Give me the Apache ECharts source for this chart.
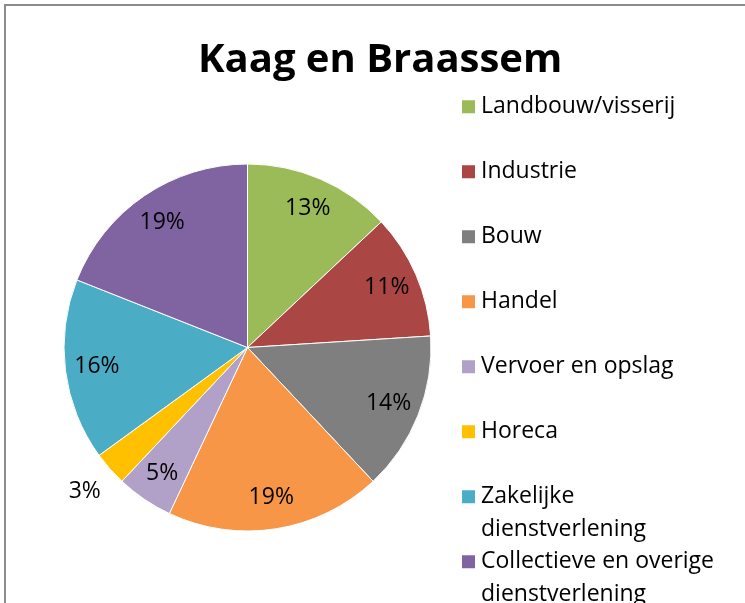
<!DOCTYPE html>
<html>
<head>
<meta charset="utf-8">
<script src="https://cdn.jsdelivr.net/npm/echarts@6/dist/echarts.min.js"></script>
<style>
  html, body { margin: 0; padding: 0; background: #ffffff; overflow: hidden; }
  #chart { width: 745px; height: 603px; }
</style>
</head>
<body>
<div id="chart"></div>
<script>
// Werkgelegenheid per sector (aandeel in %)
const chartTitle = 'Kaag en Braassem';
const sectors = [
  'Landbouw/visserij',
  'Industrie',
  'Bouw',
  'Handel',
  'Vervoer en opslag',
  'Horeca',
  'Zakelijke dienstverlening',
  'Collectieve en overige dienstverlening'
];
const shares = [13, 11, 14, 19, 5, 3, 16, 19];
const sectorColors = ['#9BBB59', '#AA4644', '#7F7F7F', '#F79646', '#B1A0C7', '#FFC000', '#4BACC6', '#8064A2'];

const FONT = '"Open Sans", "Noto Sans", sans-serif';
const CENTER = [247.5, 347.5];
const RADIUS = 183.5;
const SMALL_SLICE = 4;        // slices below this share get their label outside
const LINE_H = 32.5;          // legend line height
const LEGEND_PITCH = 65;      // distance between legend entries

// Legend names take three text rows: an empty one above, so that the
// icon (centred on the block) lines up with the first real line.
function wrapName(name, maxChars) {
  const words = name.split(' ');
  const lines = [];
  let cur = '';
  words.forEach(w => {
    if (cur && (cur + ' ' + w).length > maxChars) { lines.push(cur); cur = w; }
    else { cur = cur ? cur + ' ' + w : w; }
  });
  lines.push(cur);
  while (lines.length < 2) lines.push('');
  return ' \n' + lines.join('\n');
}

const pieData = sectors.map((name, i) => ({
  name: name,
  value: shares[i],
  itemStyle: { color: sectorColors[i] }
}));

const hidden = { color: 'rgba(0,0,0,0)', borderWidth: 0 };
const labelFont = { fontFamily: FONT, fontSize: 23, color: '#000000' };

const innerLabelData = sectors.map((name, i) => ({
  name: name,
  value: shares[i],
  itemStyle: hidden,
  label: { show: shares[i] >= SMALL_SLICE }
}));
const outerLabelData = sectors.map((name, i) => ({
  name: name,
  value: shares[i],
  itemStyle: hidden,
  label: { show: shares[i] < SMALL_SLICE }
}));

const chart = echarts.init(document.getElementById('chart'), null, { renderer: 'canvas' });

chart.setOption({
  backgroundColor: '#ffffff',
  animation: false,
  graphic: [{
    type: 'rect',
    z: -10,
    shape: { x: 5, y: 5, width: 800, height: 700 },
    style: { fill: 'none', stroke: '#8c8c8c', lineWidth: 2 }
  }],
  title: {
    text: chartTitle,
    left: 198,
    top: 41,
    padding: 0,
    textStyle: { fontFamily: FONT, fontSize: 40, fontWeight: 'bold', color: '#000000' }
  },
  legend: {
    orient: 'vertical',
    left: 460,
    top: 58,
    height: 900,
    padding: 0,
    icon: 'rect',
    itemWidth: 15,
    itemHeight: 15,
    itemGap: LEGEND_PITCH - 3 * LINE_H,
    data: sectors,
    formatter: name => wrapName(name, 22),
    textStyle: {
      fontFamily: FONT,
      fontSize: 23,
      color: '#000000',
      lineHeight: LINE_H
    },
    selectedMode: false
  },
  series: [
    {
      name: 'Sectoren',
      type: 'pie',
      center: CENTER,
      radius: [0, RADIUS],
      startAngle: 90,
      clockwise: true,
      data: pieData,
      label: { show: false },
      labelLine: { show: false },
      itemStyle: { borderColor: '#ffffff', borderWidth: 1 },
      emphasis: { disabled: true }
    },
    {
      name: 'Labels binnen',
      type: 'pie',
      silent: true,
      center: CENTER,
      radius: [114, RADIUS],
      startAngle: 90,
      clockwise: true,
      data: innerLabelData,
      label: Object.assign({ position: 'inside', formatter: '{c}%' }, labelFont),
      labelLine: { show: false },
      emphasis: { disabled: true }
    },
    {
      name: 'Labels buiten',
      type: 'pie',
      silent: true,
      center: CENTER,
      radius: [198, 230],
      startAngle: 90,
      clockwise: true,
      data: outerLabelData,
      label: Object.assign({ position: 'inside', formatter: '{c}%' }, labelFont),
      labelLine: { show: false },
      emphasis: { disabled: true }
    }
  ]
});
</script>
</body>
</html>
